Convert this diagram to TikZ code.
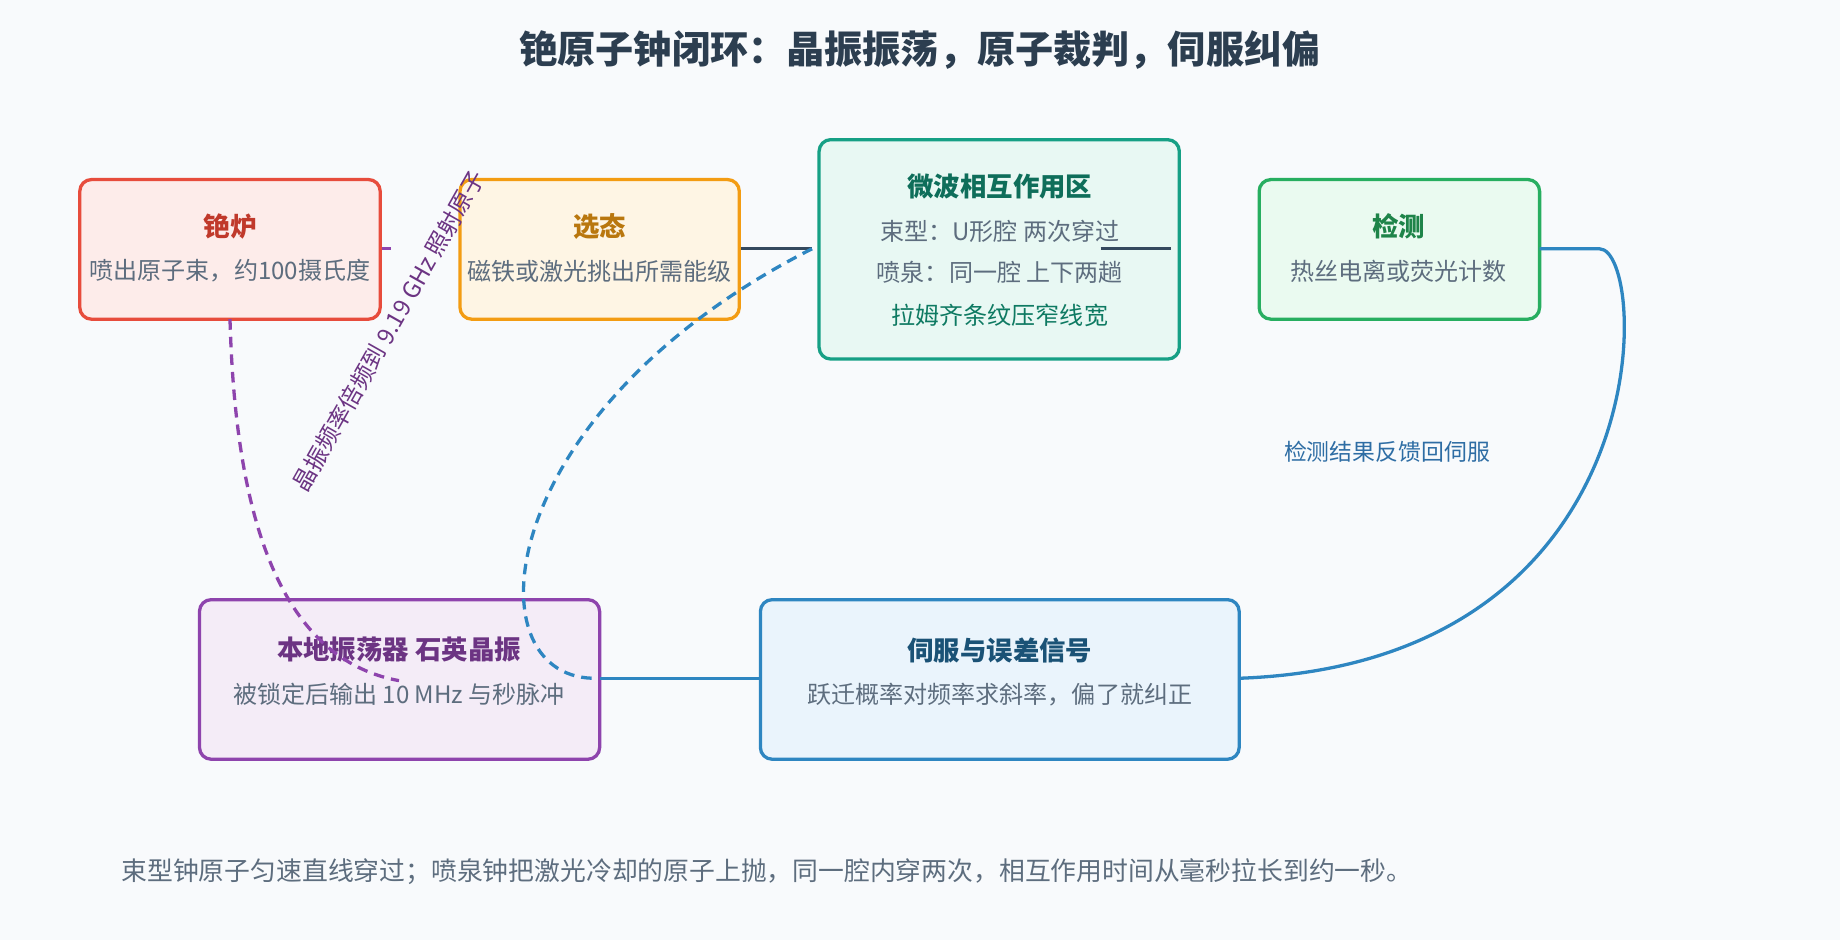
\documentclass[tikz,border=0pt]{standalone}
\usepackage{fontspec}
\setmainfont{Noto Sans CJK SC}
\begin{document}
\begin{tikzpicture}[x=1pt,y=-1pt,
  box/.style={rounded corners=10pt,line width=2.8pt,inner sep=0pt},
  ttl/.style={font=\fontsize{22.5}{26}\selectfont\bfseries},
  txt/.style={font=\fontsize{20.5}{24}\selectfont},
  conn/.style={line width=2.8pt}]
\fill[fill={rgb,255:red,248;green,250;blue,252}] (0,0) rectangle (1568,801);
\useasboundingbox (0,0) rectangle (1568,801);
\definecolor{cred}{HTML}{E74C3C}\definecolor{corg}{HTML}{F39C12}
\definecolor{cteal}{HTML}{16A085}\definecolor{cgrn}{HTML}{27AE60}
\definecolor{cpur}{HTML}{8E44AD}\definecolor{cblu}{HTML}{2E86C1}
\definecolor{cdark}{HTML}{34495E}\definecolor{ctxt}{HTML}{5D6D7E}
\node[font=\fontsize{32.5}{37}\selectfont\bfseries,text={rgb,255:red,44;green,62;blue,80}] (title) at (784,43) {铯原子钟闭环：晶振振荡，原子裁判，伺服纠偏};
% connectors under boxes
\coordinate (sA) at (333,212);
\draw[conn,cpur] (324,212) -- (sA);
\coordinate (mA) at (692,212);
\draw[conn,cdark] (630,212) -- (mA);
% boxes
\draw[box,cred,fill={rgb,255:red,253;green,236;blue,234}] (68,153) rectangle (324,272);
\node[ttl,text={rgb,255:red,192;green,57;blue,43}] (f1) at (196,193) {铯炉};
\node[txt,text=ctxt] (f2) at (196,231) {喷出原子束，约100摄氏度};
\draw[box,corg,fill={rgb,255:red,254;green,245;blue,228}] (392,153) rectangle (630,272);
\node[ttl,text={rgb,255:red,185;green,119;blue,14}] (s1) at (511,193) {选态};
\node[txt,text=ctxt] (s2) at (511,231) {磁铁或激光挑出所需能级};
\draw[box,cteal,fill={rgb,255:red,232;green,248;blue,243}] (698,119) rectangle (1005,306);
\node[ttl,text={rgb,255:red,14;green,110;blue,90}] (m1) at (852,159) {微波相互作用区};
\node[txt,text=ctxt] (m2) at (852,197) {束型：U形腔 两次穿过};
\node[txt,text=ctxt] (m3) at (852,232) {喷泉：同一腔 上下两趟};
\node[txt,text={rgb,255:red,14;green,122;blue,98}] (m4) at (852,269) {拉姆齐条纹压窄线宽};
\coordinate (mB) at (938,212);\coordinate (mC) at (998,212);
\draw[conn,cdark] (mB) -- (mC);
\draw[box,cgrn,fill={rgb,255:red,234;green,250;blue,240}] (1073,153) rectangle (1312,272);
\node[ttl,text={rgb,255:red,30;green,132;blue,73}] (d1) at (1192,193) {检测};
\node[txt,text=ctxt] (d2) at (1192,231) {热丝电离或荧光计数};
\draw[box,cpur,fill={rgb,255:red,244;green,236;blue,247}] (170,511) rectangle (511,647);
\node[ttl,text={rgb,255:red,108;green,52;blue,131}] (o1) at (340,554) {本地振荡器 石英晶振};
\node[txt,text=ctxt] (o2) at (340,592) {被锁定后输出 10 MHz 与秒脉冲};
\draw[box,cblu,fill={rgb,255:red,234;green,244;blue,252}] (648,511) rectangle (1056,647);
\node[ttl,text={rgb,255:red,26;green,82;blue,118}] (v1) at (852,554) {伺服与误差信号};
\node[txt,text=ctxt] (v2) at (852,592) {跃迁概率对频率求斜率，偏了就纠正};
% connectors over boxes
\coordinate (fb) at (196,272);\coordinate (oe) at (340,580);
\draw[conn,cpur,dashed,dash pattern=on 9pt off 6pt] (fb) .. controls (200,420) and (230,560) .. (oe);
\node[font=\fontsize{20}{23}\selectfont,text={rgb,255:red,108;green,52;blue,131},rotate=60.5] (lbl) at (331,282) {晶振频率倍频到 9.19 GHz 照射原子};
\coordinate (oe2) at (505,578);
\draw[conn,cblu,dashed,dash pattern=on 9pt off 6pt] (mA) .. controls (420,350) and (400,575) .. (oe2);
\coordinate (oR) at (511,578);\coordinate (vL) at (648,578);
\draw[conn,cblu] (oR) -- (vL);
\coordinate (dR) at (1312,212);\coordinate (vR) at (1056,578);
\draw[conn,cblu] (dR) -- (1363,212) .. controls (1405,212) and (1420,565) .. (vR);
\node[font=\fontsize{19.5}{23}\selectfont,text={rgb,255:red,46;green,109;blue,164}] (fbl) at (1182,385) {检测结果反馈回伺服};
\node[font=\fontsize{22}{26}\selectfont,text=ctxt,anchor=west] (foot) at (100,743) {束型钟原子匀速直线穿过；喷泉钟把激光冷却的原子上抛，同一腔内穿两次，相互作用时间从毫秒拉长到约一秒。};
\end{tikzpicture}
\end{document}
